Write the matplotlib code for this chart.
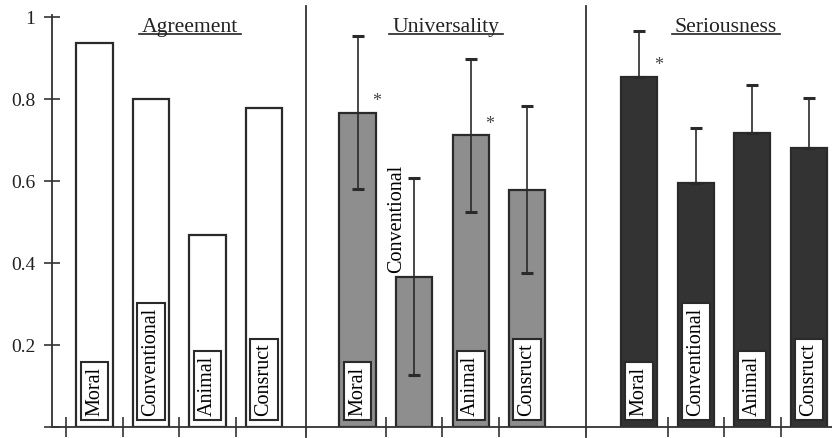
import numpy as np
import matplotlib.pyplot as plt

plt.rcParams['font.family'] = ['Liberation Serif', 'DejaVu Serif']

categories = ['Moral', 'Conventional', 'Animal', 'Consruct']
panels = ['Agreement', 'Universality', 'Seriousness']

agreement = [0.936, 0.801, 0.468, 0.778]
universality = [0.767, 0.367, 0.711, 0.579]
universality_err = [0.187, 0.241, 0.187, 0.204]
seriousness = [0.854, 0.594, 0.716, 0.681]
seriousness_err = [0.111, 0.135, 0.118, 0.121]
starred = {'Universality': ['Moral', 'Animal'], 'Seriousness': ['Moral']}

offsets = [0.0, 4.655, 9.64]
dividers = [3.74, 8.70]
width = 0.64
colors = ['white', '#8e8e8e', '#333333']

fig = plt.figure(figsize=(8.32, 4.38), dpi=100)
ax = fig.add_axes([52 / 832, 11 / 438, 780 / 832, 410 / 438])

x = np.arange(len(categories))
values = [agreement, universality, seriousness]
errors = [None, universality_err, seriousness_err]

for g, name in enumerate(panels):
    xs = x + offsets[g]
    ax.bar(xs, values[g], width, color=colors[g], edgecolor='#2a2a2a', linewidth=1.6, zorder=2)
    if name == 'Universality':
        ax.errorbar(xs, values[g], yerr=errors[g], fmt='none', ecolor='#2a2a2a',
                    elinewidth=1.2, capsize=4, capthick=2.2, zorder=3)
    elif name == 'Seriousness':
        ax.errorbar(xs, values[g], yerr=[np.zeros(4), errors[g]], fmt='none', ecolor='#2a2a2a',
                    elinewidth=1.2, capsize=4, capthick=2.2, zorder=3)

    # boxed category names inside the bars
    for i, cat in enumerate(categories):
        if name == 'Universality' and cat == 'Conventional':
            ax.text(xs[i] - 0.31, values[g][i] + 0.14, cat, rotation=90, ha='center', va='center',
                    fontsize=14.5, zorder=4)
            continue
        ax.annotate(cat, (xs[i], 0), xytext=(0, 8), textcoords='offset points',
                    rotation=90, ha='center', va='bottom', fontsize=14.5, zorder=4,
                    bbox=dict(boxstyle='square,pad=0.22', fc='white', ec='#2a2a2a', lw=1.5))
        if cat in starred.get(name, []):
            top = values[g][i]
            ax.text(xs[i] + 0.34, top + 0.028, '*', ha='center', va='center',
                    fontsize=13, color='#444444', zorder=4)

# group titles, underlined
title_x = [1.69, 6.22, 11.17]
titles = []
for g, name in enumerate(panels):
    t = ax.text(title_x[g], 0.975, name, ha='center', va='center', fontsize=15.6, color='#222222')
    titles.append(t)

fig.canvas.draw()
renderer = fig.canvas.get_renderer()
inv = ax.transData.inverted()
for t in titles:
    bb = t.get_window_extent(renderer)
    (x0, y0), (x1, _) = inv.transform([(bb.x0, bb.y0 + 3), (bb.x1, bb.y0)])
    ax.plot([x0, x1], [y0, y0], color='#222222', lw=1.2, clip_on=False)

for d in dividers:
    ax.plot([d, d], [-0.024, 1.027], color='#333333', lw=1.3, clip_on=False, zorder=1)

xticks = [-0.5, 0.5, 1.5, 2.5] + [offsets[1] + k for k in (0.5, 1.5, 2.5)] + \
         [offsets[2] + k for k in (0.5, 1.5, 2.5)]
ax.set_xticks(xticks)
ax.set_xticklabels([])
ax.set_yticks([0, 0.2, 0.4, 0.6, 0.8, 1.0])
ax.set_yticklabels(['', '0.2', '0.4', '0.6', '0.8', '1'])
ax.tick_params(axis='both', direction='inout', length=12, width=1.2, colors='#333333',
               labelsize=14, labelcolor='#222222')
ax.tick_params(axis='x', length=14)
ax.tick_params(axis='y', pad=6)

ax.set_xlim(-0.752, 13.05)
ax.set_ylim(0, 1.0)
for s in ['top', 'right']:
    ax.spines[s].set_visible(False)
for s in ['left', 'bottom']:
    ax.spines[s].set_color('#333333')
    ax.spines[s].set_linewidth(1.3)
ax.spines['left'].set_bounds(0, 1.005)

fig.savefig('out.png', dpi=100)
